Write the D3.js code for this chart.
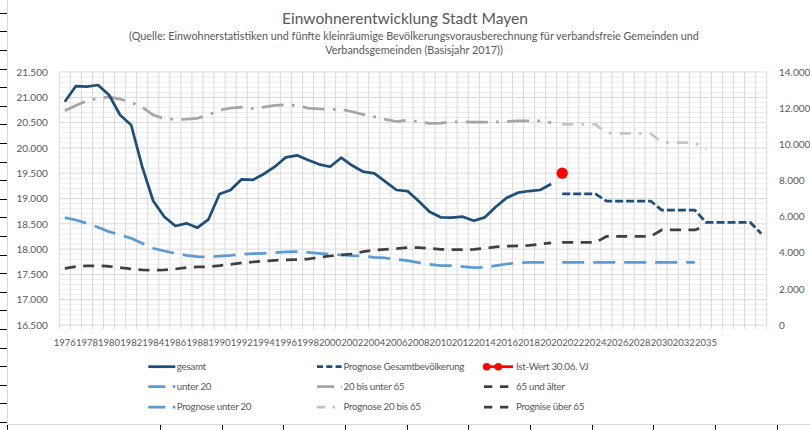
<!DOCTYPE html>
<html><head><meta charset="utf-8">
<script src="https://cdn.jsdelivr.net/npm/d3@7"></script>
<style>
html,body{margin:0;padding:0;background:#fff;}
svg{display:block;font-family:Lato,"Open Sans",sans-serif;}
</style></head>
<body><svg id="c" width="810" height="430"></svg>
<script>
// ---------- DATA ----------
const categories = ["1976","1977","1978","1979","1980","1981","1982","1983","1984","1985","1986","1987","1988","1989","1990","1991","1992","1993","1994","1995","1996","1997","1998","1999","2000","2001","2002","2003","2004","2005","2006","2007","2008","2009","2010","2011","2012","2013","2014","2015","2016","2017","2018","2019","2020","2021","2022","2023","2024","2025","2026","2027","2028","2029","2030","2031","2032","2033","2035","","","","",""];
const leftTicks = [16500,17000,17500,18000,18500,19000,19500,20000,20500,21000,21500];
const rightTicks = [0,2000,4000,6000,8000,10000,12000,14000];

// historical series start at "1976"
const gesamt = [20913,21223,21210,21243,21045,20650,20453,19628,18950,18640,18457,18510,18423,18589,19089,19168,19379,19366,19484,19628,19814,19854,19761,19676,19628,19806,19652,19530,19498,19332,19168,19148,18950,18739,18628,18621,18640,18561,18628,18838,19016,19115,19148,19168,19286];
const unter20 = [5938,5811,5627,5407,5165,4981,4798,4521,4245,4095,3968,3857,3780,3763,3818,3857,3912,3946,3968,4001,4040,4057,4023,3968,3912,3874,3835,3818,3746,3708,3635,3560,3448,3359,3282,3282,3227,3171,3190,3282,3376,3448,3470,3470,3470];
const bis65 = [11850,12150,12400,12550,12620,12500,12330,12050,11620,11420,11380,11390,11440,11620,11900,12000,12050,11980,12060,12150,12190,12140,12000,11960,11940,11930,11800,11650,11520,11380,11260,11330,11250,11160,11170,11240,11240,11220,11220,11240,11260,11290,11290,11290,11200];
const ueber65 = [3138,3227,3265,3284,3247,3173,3099,3044,3027,3044,3099,3173,3210,3227,3284,3359,3432,3486,3542,3580,3597,3614,3652,3745,3818,3874,3929,4057,4150,4189,4225,4278,4278,4243,4190,4170,4170,4180,4250,4320,4360,4380,4400,4480,4550];

// prognosis series start at "2021"
const prognoseStart = "2021";
const istWert = [19500];
const prognoseGesamt = [19090,19090,19090,19090,18950,18950,18950,18950,18950,18770,18770,18770,18770,18530,18530,18530,18530,18530,18310];
const prognoseUnter20 = [3460,3460,3460,3460,3460,3460,3460,3460,3460,3460,3460,3460,3460];
const prognose20bis65 = [11100,11100,11100,11100,10620,10600,10600,10600,10600,10090,10090,10090,10090,9700];
const prognoseUeber65 = [4570,4570,4570,4570,4900,4900,4900,4900,4900,5260,5260,5260,5260,5480];

// ---------- LAYOUT ----------
const svg = d3.select("#c");
const X0 = 59.3, X1 = 766.7, Y0 = 72, Y1 = 325;
const txt = "#595959", grid = "#d9d9d9", minor = "#eeeeee";
const idx = d3.range(categories.length);
const x = d3.scaleBand().domain(idx).range([X0, X1]).padding(0);
const cx = i => x(i) + x.bandwidth()/2;
const yL = d3.scaleLinear().domain([16500,21500]).range([Y1,Y0]);
const yR = d3.scaleLinear().domain([0,14000]).range([Y1,Y0]);
const loc = d3.formatLocale({decimal:",", thousands:".", grouping:[3], currency:["","€"]});
const fmt = loc.format(",");

function place(arr, start){ const a = new Array(categories.length).fill(null); arr.forEach((v,k)=>a[start+k]=v); return a; }
const pStart = categories.indexOf(prognoseStart);
function fitSize(str, base, target){
  const tmp = svg.append("text").attr("font-size",base).text(str);
  const w = tmp.node().getComputedTextLength(); tmp.remove();
  return base*target/w;
}

// background artifacts (sheet frame)
svg.append("line").attr("x1",7.5).attr("x2",7.5).attr("y1",0).attr("y2",424).attr("stroke",grid);
svg.append("line").attr("x1",7).attr("x2",810).attr("y1",424.5).attr("y2",424.5).attr("stroke",grid);
svg.selectAll(".lt").data(d3.range(23)).join("line")
  .attr("x1",0).attr("x2",7).attr("y1",k=>Math.round(12.7+k*18.6)+0.5).attr("y2",k=>Math.round(12.7+k*18.6)+0.5).attr("stroke","#000");
svg.selectAll(".bt").data([7,160,221.7,283.3,345,406.7,468.3,530,591.7,653.3,715,776.7]).join("line")
  .attr("x1",d=>Math.round(d)+0.5).attr("x2",d=>Math.round(d)+0.5).attr("y1",425).attr("y2",430).attr("stroke","#000");

// title
const titleStr = "Einwohnerentwicklung Stadt Mayen";
svg.append("text").attr("x",405).attr("y",23.5).attr("text-anchor","middle").attr("fill",txt)
  .attr("font-size",fitSize(titleStr,15,246)).text(titleStr);
const sub1 = "(Quelle: Einwohnerstatistiken und fünfte kleinräumige Bevölkerungsvorausberechnung für verbandsfreie Gemeinden und";
const subSize = fitSize(sub1,10,571);
svg.append("text").attr("x",414).attr("y",39.5).attr("text-anchor","middle").attr("fill",txt).attr("font-size",subSize).text(sub1);
svg.append("text").attr("x",414).attr("y",54).attr("text-anchor","middle").attr("fill",txt).attr("font-size",subSize)
  .text("Verbandsgemeinden (Basisjahr 2017))");

// gridlines
const g = svg.append("g");
g.selectAll(".mn").data(d3.range(16500,21501,100).filter(v=>v%500!==0)).join("line")
  .attr("x1",X0).attr("x2",X1).attr("y1",d=>yL(d)).attr("y2",d=>yL(d)).attr("stroke",minor).attr("stroke-width",1);
g.selectAll(".vg").data(d3.range(categories.length+1)).join("line")
  .attr("x1",i=>X0+i*x.bandwidth()).attr("x2",i=>X0+i*x.bandwidth()).attr("y1",Y0).attr("y2",Y1+4).attr("stroke",grid);
g.selectAll(".mj").data(leftTicks).join("line")
  .attr("x1",X0).attr("x2",X1).attr("y1",d=>yL(d)).attr("y2",d=>yL(d)).attr("stroke",grid);

// axes
const ySize = fitSize(fmt(21500),10,31.5);
const xSize = 9.5;
const ax = svg.append("g").attr("transform",`translate(${X0},0)`)
  .call(d3.axisLeft(yL).tickValues(leftTicks).tickFormat(fmt).tickSize(0).tickPadding(11.5));
const ar = svg.append("g").attr("transform",`translate(${X1},0)`)
  .call(d3.axisRight(yR).tickValues(rightTicks).tickFormat(fmt).tickSize(0).tickPadding(12.3));
const ab = svg.append("g").attr("transform",`translate(0,${Y1})`)
  .call(d3.axisBottom(x).tickFormat(i => i%2===0 ? categories[i] : "").tickSize(0).tickPadding(14.5));
[ax,ar].forEach(a=>{ a.select(".domain").remove(); a.selectAll("text").attr("fill",txt).attr("font-size",ySize).attr("font-family","Lato,sans-serif"); });
ab.select(".domain").remove(); ab.selectAll("text").attr("fill",txt).attr("font-size",xSize).attr("font-family","Lato,sans-serif");

// series
const W = 2.75;
const line = ys => d3.line().defined(d=>d!=null).x((d,i)=>cx(i)).y(d=>ys(d));
const series = [
  {data: place(bis65,0), s: yR, color:"#a5a5a5", dash:"22,8.25,2.75,8.25"},
  {data: place(prognose20bis65,pStart), s: yR, color:"#c4c4c4", dash:"11,8.25,2.75,8.25"},
  {data: place(unter20,0), s: yR, color:"#5b9bd5", dash:"22,9"},
  {data: place(prognoseUnter20,pStart), s: yR, color:"#5b9bd5", dash:"22,9"},
  {data: place(ueber65,0), s: yR, color:"#404040", dash:"11,7.5"},
  {data: place(prognoseUeber65,pStart), s: yR, color:"#404040", dash:"11,7.5"},
  {data: place(gesamt,0), s: yL, color:"#1f4e79", dash:null},
  {data: place(prognoseGesamt,pStart), s: yL, color:"#1f4e79", dash:"8,3"},
];
series.forEach(sr=>{
  svg.append("path").attr("d", line(sr.s)(sr.data)).attr("fill","none").attr("stroke",sr.color)
    .attr("stroke-width",W).attr("stroke-linejoin","round").attr("stroke-dasharray",sr.dash);
});
const ist = place(istWert,pStart);
svg.selectAll(".ist").data(idx.filter(i=>ist[i]!=null)).join("circle")
  .attr("cx",i=>cx(i)).attr("cy",i=>yL(ist[i])).attr("r",5.6).attr("fill","#ff0000");

// legend
const legend = [
  {name:"gesamt", col:0,row:0,color:"#1f4e79",dash:null},
  {name:"Prognose Gesamtbevölkerung", col:1,row:0,color:"#1f4e79",dash:"6,3.3"},
  {name:"Ist-Wert 30.06. VJ", col:2,row:0,color:"#ff0000",dash:null,marker:true},
  {name:"unter 20", col:0,row:1,color:"#5b9bd5",dash:"17,7.5,2.5"},
  {name:"20 bis unter 65", col:1,row:1,color:"#a5a5a5",dash:"17,7.5,2.5"},
  {name:"65 und älter", col:2,row:1,color:"#404040",dash:"8.3,7.7"},
  {name:"Prognose unter 20", col:0,row:2,color:"#5b9bd5",dash:"17,7.5,2.5"},
  {name:"Prognose 20 bis 65", col:1,row:2,color:"#c4c4c4",dash:"8,7.5,2.5,7,2.5"},
  {name:"Prognise über 65", col:2,row:2,color:"#404040",dash:"8.3,7.7"},
];
const legSize = 9.8;
const colX = [148.3,317,484], colLen=[27,25,29], rowY=[366.7,386.7,407];
const lg = svg.append("g");
legend.forEach(d=>{
  const x0 = colX[d.col], y = rowY[d.row];
  lg.append("line").attr("x1",x0).attr("x2",x0+colLen[d.col]).attr("y1",y).attr("y2",y)
    .attr("stroke",d.color).attr("stroke-width",W).attr("stroke-dasharray",d.dash);
  if(d.marker){ [486.7,498.3].forEach(m=>lg.append("circle").attr("cx",m).attr("cy",y).attr("r",3.8).attr("fill","#ff0000")); }
  lg.append("text").attr("x",x0+colLen[d.col]+ (d.col===2?3:1.5)).attr("y",y).attr("dy","0.35em")
    .attr("fill",txt).attr("font-size",legSize).attr("letter-spacing",-0.3).text(d.name);
});
</script></body></html>
